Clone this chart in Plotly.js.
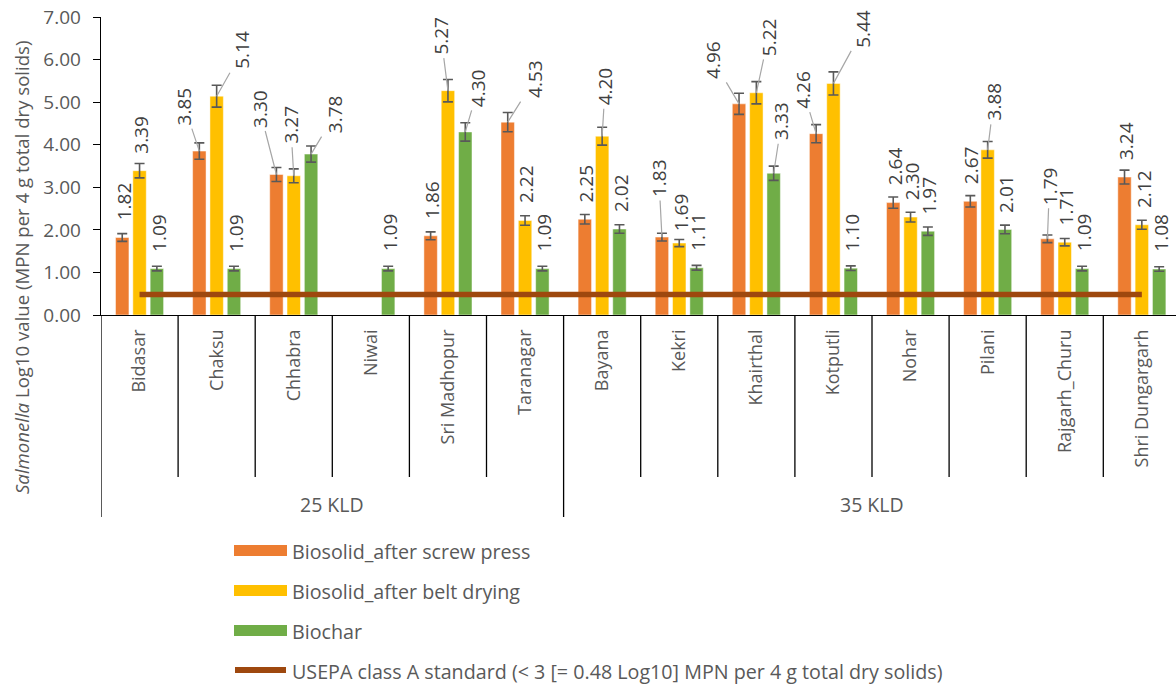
<!DOCTYPE html>
<html>
<head>
<meta charset="utf-8">
<script src="https://cdn.plot.ly/plotly-3.0.1.min.js"></script>
<style>html,body{margin:0;padding:0;background:#fff;}#chart{width:1176px;height:684px;}</style>
</head>
<body>
<div id="chart"></div>
<script>
// ---- data ----
const categories = ['Bidasar','Chaksu','Chhabra','Niwai','Sri Madhopur','Taranagar',
  'Bayana','Kekri','Khairthal','Kotputli','Nohar','Pilani','Rajgarh_Churu','Shri Dungargarh'];
const groupLabels = ['25 KLD', '35 KLD'];
const groupSizes = [6, 8];
const seriesNames = ['Biosolid_after screw press', 'Biosolid_after belt drying', 'Biochar'];
const screwPress = [1.82, 3.85, 3.30, null, 1.86, 4.53, 2.25, 1.83, 4.96, 4.26, 2.64, 2.67, 1.79, 3.24];
const beltDrying = [3.39, 5.14, 3.27, null, 5.27, 2.22, 4.20, 1.69, 5.22, 5.44, 2.30, 3.88, 1.71, 2.12];
const biochar    = [1.09, 1.09, 3.78, 1.09, 4.30, 1.09, 2.02, 1.11, 3.33, 1.10, 1.97, 2.01, 1.09, 1.08];
const errorPercent = 5;
const usepaStandard = 0.48;
const usepaName = 'USEPA class A standard (< 3 [= 0.48 Log10] MPN per 4 g total dry solids)';

// ---- label placement (pixel offsets of moved data labels, with leader lines) ----
const labelNudge = {
  '0|Chaksu': [-15, -45], '1|Chaksu': [26, -46],
  '0|Chhabra': [-17, -66], '1|Chhabra': [-3, -51], '2|Chhabra': [24, -40],
  '1|Sri Madhopur': [-7, -55], '2|Sri Madhopur': [13, -44],
  '0|Taranagar': [27, -43],
  '1|Bayana': [3, -50],
  '0|Kekri': [-3, -59], '1|Kekri': [2, -31, 'noline'],
  '0|Khairthal': [-26, -44], '1|Khairthal': [12, -56], '2|Khairthal': [8, -52],
  '0|Kotputli': [-13, -44], '1|Kotputli': [30, -55],
  '1|Pilani': [6, -48],
  '0|Rajgarh_Churu': [2, -53]
};

// ---- styles ----
const colors = ['#ED7D31', '#FFC000', '#70AD47'];
const lineColor = '#9E480E';
const W = 1176, H = 684;
const M = {l: 101, r: 0, t: 17, b: 369};
const plotW = W - M.l - M.r, plotH = H - M.t - M.b;
const xRange = [-0.5, 13.443];
const bargap = 0.326, bargroupgap = 0.224;
const pxPerCat = plotW / (xRange[1] - xRange[0]);
const slotPx = pxPerCat * (1 - bargap) / 3;
const px2xp = px => (px - M.l) / plotW;
const px2yp = py => (M.t + plotH - py) / plotH;

const allSeries = [screwPress, beltDrying, biochar];
const traces = allSeries.map((vals, i) => ({
  type: 'bar', name: seriesNames[i], x: categories, y: vals,
  marker: {color: colors[i], line: {color: 'rgba(255,255,255,0.6)', width: 0.8}},
  error_y: {type: 'percent', value: errorPercent, visible: true, color: '#595959', thickness: 1.6, width: 5},
  showlegend: false, hoverinfo: 'x+y'
}));
traces.push({
  type: 'scatter', mode: 'lines', name: usepaName, x: categories,
  y: categories.map(() => usepaStandard),
  line: {color: lineColor, width: 5.5}, showlegend: false
});

const annotations = [];
allSeries.forEach((vals, si) => {
  vals.forEach((v, ci) => {
    if (v === null) return;
    const key = si + '|' + categories[ci];
    const n = labelNudge[key];
    const moved = !!n && n[2] !== 'noline';
    annotations.push({
      xref: 'x', yref: 'y', x: categories[ci], y: v,
      xshift: (si - 1) * slotPx,
      text: v.toFixed(2), textangle: -90,
      font: {family: 'Open Sans, sans-serif', size: 19, color: '#404040'},
      showarrow: true, arrowhead: 0, arrowwidth: 1.2,
      arrowcolor: moved ? '#A6A6A6' : 'rgba(0,0,0,0)',
      ax: n ? n[0] : 1.5, ay: n ? n[1] : -36,
      standoff: 0, borderpad: 3
    });
  });
});

// group labels
let start = 0;
groupLabels.forEach((g, gi) => {
  const mid = start + (groupSizes[gi] - 1) / 2;
  annotations.push({
    xref: 'x', yref: 'paper', x: mid, y: px2yp(505), text: g, showarrow: false,
    font: {family: 'Open Sans, sans-serif', size: 19.5, color: '#595959'},
    xanchor: 'center', yanchor: 'middle'
  });
  start += groupSizes[gi];
});

// y axis title
annotations.push({
  xref: 'paper', yref: 'paper', x: px2xp(21), y: px2yp(268),
  text: '<i>Salmonella</i> Log10 value (MPN per 4 g total dry solids)',
  textangle: -90, showarrow: false, xanchor: 'center', yanchor: 'middle',
  font: {family: 'Open Sans, sans-serif', size: 18.6, color: '#595959'}
});

// dividers
const shapes = [];
let cum = 0;
const bounds = [-0.5];
groupSizes.forEach(s => { cum += s; bounds.push(cum - 0.5); });
for (let i = 0; i < categories.length - 1; i++) {
  const b = i + 0.5;
  const long = bounds.includes(b);
  shapes.push({type: 'line', xref: 'x', yref: 'paper', x0: b, x1: b, y0: 0,
    y1: px2yp(long ? 517 : 477), line: {color: '#000', width: 1.3}});
}
shapes.push({type: 'line', xref: 'x', yref: 'paper', x0: -0.5, x1: -0.5, y0: 0,
  y1: px2yp(517), line: {color: '#000', width: 1.3}});

// manual legend
const legY = [550.5, 590.5, 630.5, 670];
seriesNames.forEach((nm, i) => {
  shapes.push({type: 'rect', xref: 'paper', yref: 'paper',
    x0: px2xp(234), x1: px2xp(287), y0: px2yp(legY[i] - 5.5), y1: px2yp(legY[i] + 5.5),
    fillcolor: colors[i], line: {width: 0}});
});
shapes.push({type: 'line', xref: 'paper', yref: 'paper',
  x0: px2xp(235), x1: px2xp(286), y0: px2yp(legY[3]), y1: px2yp(legY[3]),
  line: {color: lineColor, width: 6}});
seriesNames.concat([usepaName]).forEach((nm, i) => {
  annotations.push({xref: 'paper', yref: 'paper', x: px2xp(290), y: px2yp(legY[i] + 1),
    text: nm, showarrow: false, xanchor: 'left', yanchor: 'middle',
    font: {family: 'Open Sans, sans-serif', size: 19.7, color: '#595959'}});
});

const layout = {
  width: W, height: H, margin: M, paper_bgcolor: '#fff', plot_bgcolor: '#fff',
  barmode: 'group', bargap: bargap, bargroupgap: bargroupgap, showlegend: false,
  xaxis: {type: 'category', range: xRange, showline: true, linecolor: '#000', linewidth: 1.3,
    ticks: '', tickangle: -90, showgrid: false, zeroline: false, ticklabelstandoff: 6,
    tickfont: {family: 'Open Sans, sans-serif', size: 18, color: '#595959'}},
  yaxis: {range: [0, 7], dtick: 1, tickformat: '.2f', showline: true, linecolor: '#000', linewidth: 1.3,
    ticks: 'outside', ticklen: 7, tickcolor: '#000', showgrid: false, zeroline: false,
    ticklabelstandoff: 8,
    tickfont: {family: 'Open Sans, sans-serif', size: 19, color: '#595959'}},
  annotations: annotations, shapes: shapes
};
Plotly.newPlot('chart', traces, layout, {displayModeBar: false, staticPlot: true});
</script>
</body>
</html>
